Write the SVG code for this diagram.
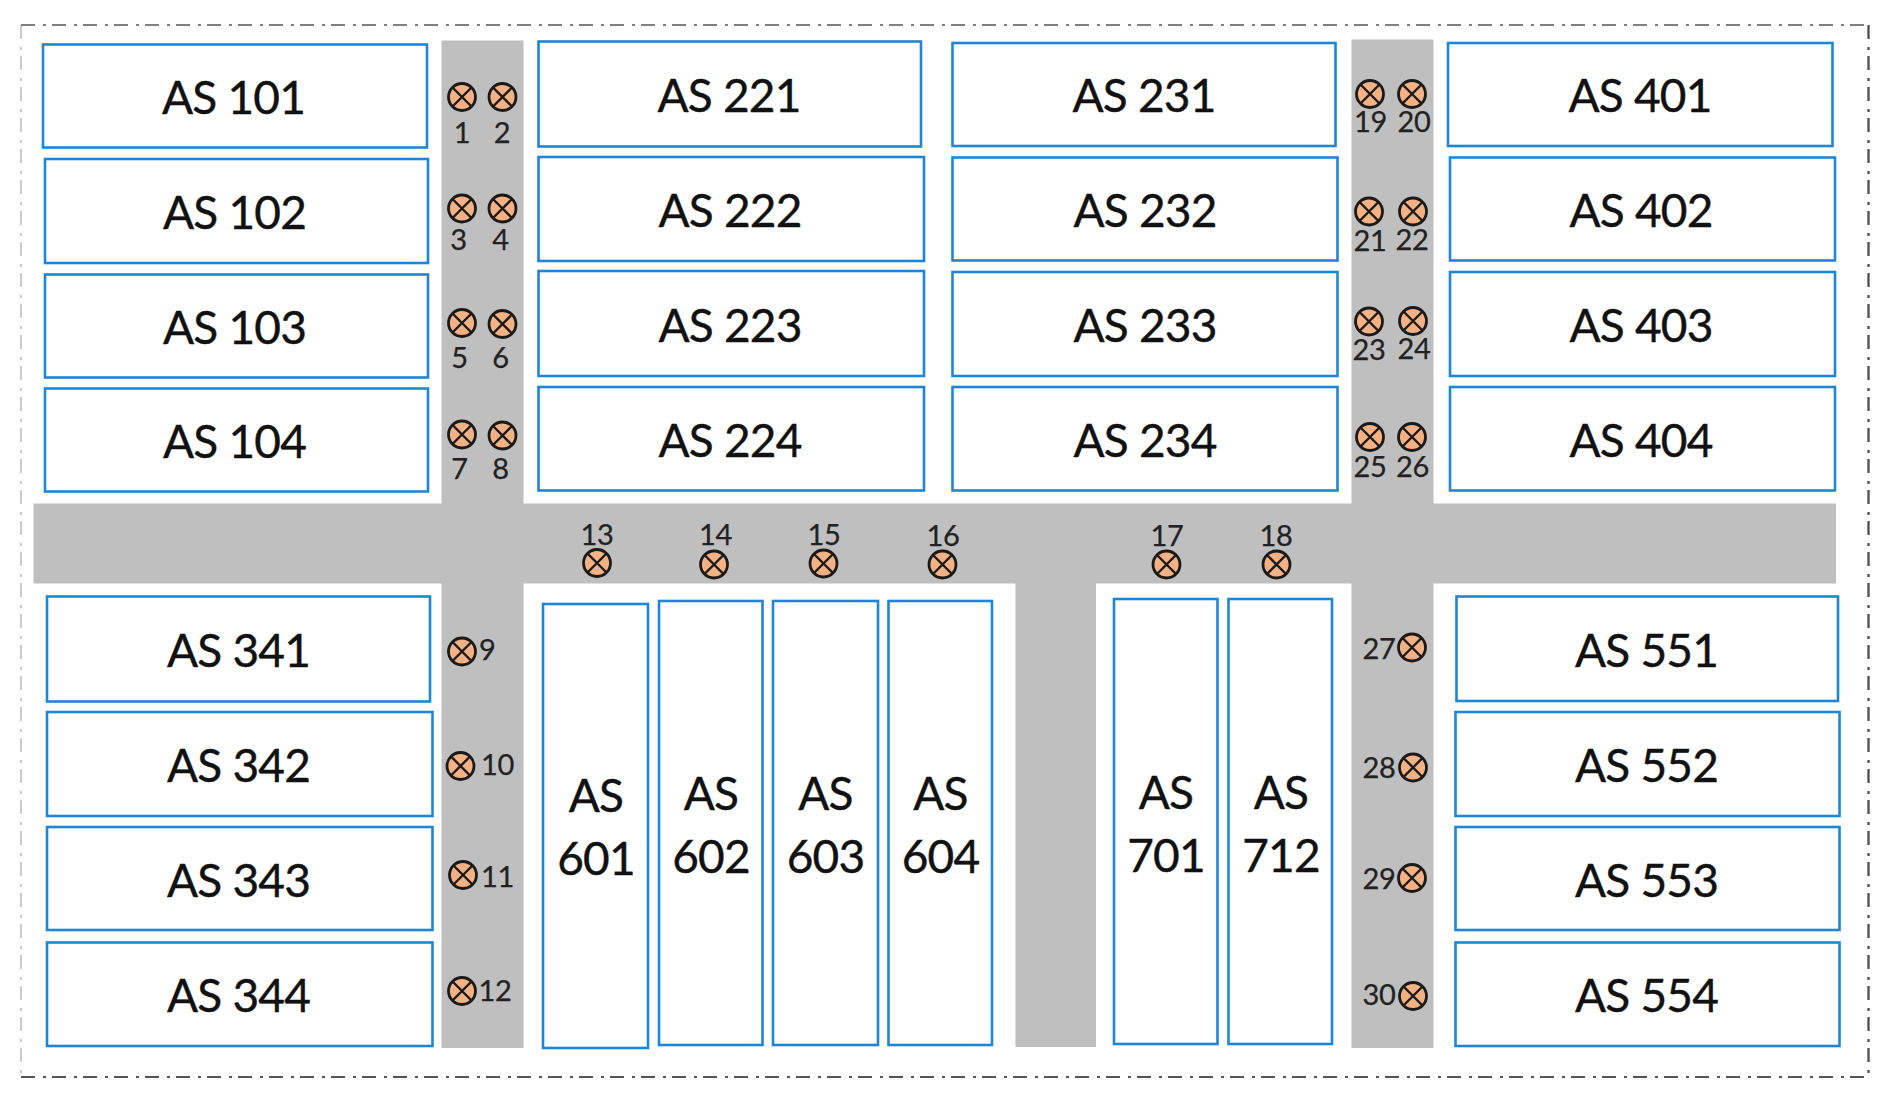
<svg xmlns="http://www.w3.org/2000/svg" width="1890" height="1099" viewBox="0 0 1890 1099">
<style>
.b{fill:#fff;stroke:#1f85d6;stroke-width:2.6}
.t{font-family:Lato,"Liberation Sans",sans-serif;font-size:46px;letter-spacing:-.8px;fill:#111;stroke:#111;stroke-width:.4;text-anchor:middle}
.n{font-family:Lato,"Liberation Sans",sans-serif;font-size:29px;letter-spacing:-.3px;fill:#222;stroke:#222;stroke-width:.25;text-anchor:middle}
.s{text-anchor:start}
.e{text-anchor:end}
.f{fill:none;stroke:#555;stroke-dasharray:14 8 3 6}
</style>
<defs>
<g id="lamp"><circle r="13.5" fill="#f4b183" stroke="#1a1a1a" stroke-width="2.8"/><path d="M-9.500-9.500L9.500 9.500M-9.500 9.500L9.500-9.500" fill="none" stroke="#1a1a1a" stroke-width="2.4"/></g>
</defs>
<rect width="1890" height="1099" fill="#fff"/>
<g id="frame">
<path class="f" d="M21 25H1869" stroke-width="1.6"/>
<path class="f" d="M21 25V1077" stroke-width="1" opacity=".6"/>
<path class="f" d="M1868.500 25V1077" stroke-width="2.4"/>
<path class="f" d="M21 1077H1869" stroke-width="2.2"/>
</g>
<g id="roads">
<path fill="#bfbfbf" d="M441.500 40.500H523.500V503.500H1351.500V39.500H1433.500V503.500H1836V583.500H1433.500V1048H1351.500V583.500H1096V1047H1015.500V583.500H523.500V1048H441.500V583.500H33.500V503.500H441.500Z"/>
</g>
<g id="as101"><rect class="b" x="43" y="44.500" width="384" height="103"/><text class="t" x="233.500" y="113.500">AS 101</text></g>
<g id="as102"><rect class="b" x="45" y="159" width="383" height="104"/><text class="t" x="234.500" y="228.500">AS 102</text></g>
<g id="as103"><rect class="b" x="45" y="274.500" width="383" height="103"/><text class="t" x="234.500" y="343.500">AS 103</text></g>
<g id="as104"><rect class="b" x="45" y="388.500" width="383" height="103"/><text class="t" x="234.500" y="458">AS 104</text></g>
<g id="as221"><rect class="b" x="538.500" y="41.500" width="382.500" height="105"/><text class="t" x="729" y="112">AS 221</text></g>
<g id="as222"><rect class="b" x="538.500" y="157" width="385.500" height="104"/><text class="t" x="730" y="227">AS 222</text></g>
<g id="as223"><rect class="b" x="538.500" y="271" width="385.500" height="105"/><text class="t" x="730" y="342">AS 223</text></g>
<g id="as224"><rect class="b" x="538.500" y="387" width="385.500" height="103.500"/><text class="t" x="730" y="457">AS 224</text></g>
<g id="as231"><rect class="b" x="952.500" y="43" width="383" height="103"/><text class="t" x="1144" y="112">AS 231</text></g>
<g id="as232"><rect class="b" x="952.500" y="157.500" width="385" height="103"/><text class="t" x="1145" y="227">AS 232</text></g>
<g id="as233"><rect class="b" x="952.500" y="272" width="385" height="104"/><text class="t" x="1145" y="342">AS 233</text></g>
<g id="as234"><rect class="b" x="952.500" y="387" width="385" height="103.500"/><text class="t" x="1145" y="457">AS 234</text></g>
<g id="as401"><rect class="b" x="1448" y="43" width="384.500" height="103"/><text class="t" x="1640" y="112">AS 401</text></g>
<g id="as402"><rect class="b" x="1450" y="157.500" width="385" height="103"/><text class="t" x="1641" y="227">AS 402</text></g>
<g id="as403"><rect class="b" x="1450" y="272" width="385" height="104"/><text class="t" x="1641" y="342">AS 403</text></g>
<g id="as404"><rect class="b" x="1450" y="387" width="385" height="103.500"/><text class="t" x="1641" y="457">AS 404</text></g>
<g id="as341"><rect class="b" x="47" y="596.500" width="383" height="105"/><text class="t" x="238.500" y="667">AS 341</text></g>
<g id="as342"><rect class="b" x="47" y="712" width="385.500" height="104"/><text class="t" x="238.500" y="782">AS 342</text></g>
<g id="as343"><rect class="b" x="47" y="827" width="385.500" height="103"/><text class="t" x="238.500" y="897">AS 343</text></g>
<g id="as344"><rect class="b" x="47" y="942.500" width="385.500" height="103.500"/><text class="t" x="238.500" y="1012">AS 344</text></g>
<g id="as551"><rect class="b" x="1456.500" y="596.500" width="381.500" height="104.500"/><text class="t" x="1646.500" y="667">AS 551</text></g>
<g id="as552"><rect class="b" x="1455.500" y="712" width="384" height="104"/><text class="t" x="1646.500" y="782">AS 552</text></g>
<g id="as553"><rect class="b" x="1455.500" y="827" width="384" height="103"/><text class="t" x="1646.500" y="897">AS 553</text></g>
<g id="as554"><rect class="b" x="1455.500" y="942.500" width="384" height="103.500"/><text class="t" x="1646.500" y="1012">AS 554</text></g>
<g id="as601"><rect class="b" x="543" y="604" width="105" height="444"/><text class="t" x="596" y="812">AS</text><text class="t" x="596" y="875">601</text></g>
<g id="as602"><rect class="b" x="659" y="601" width="103.500" height="444"/><text class="t" x="711" y="810">AS</text><text class="t" x="711" y="873">602</text></g>
<g id="as603"><rect class="b" x="773" y="601" width="105" height="444"/><text class="t" x="825.500" y="810">AS</text><text class="t" x="825.500" y="873">603</text></g>
<g id="as604"><rect class="b" x="888.500" y="601" width="103.500" height="444"/><text class="t" x="940.500" y="810">AS</text><text class="t" x="940.500" y="873">604</text></g>
<g id="as701"><rect class="b" x="1114" y="599" width="103.500" height="445"/><text class="t" x="1166" y="809">AS</text><text class="t" x="1166" y="871.500">701</text></g>
<g id="as712"><rect class="b" x="1228.500" y="599" width="103.500" height="445"/><text class="t" x="1281" y="809">AS</text><text class="t" x="1281" y="871.500">712</text></g>
<g id="l1"><use href="#lamp" x="462" y="97"/><text class="n" x="462" y="143">1</text></g>
<g id="l2"><use href="#lamp" x="502.500" y="97"/><text class="n" x="502" y="143">2</text></g>
<g id="l3"><use href="#lamp" x="462" y="208.500"/><text class="n" x="458.500" y="250">3</text></g>
<g id="l4"><use href="#lamp" x="502.500" y="208.500"/><text class="n" x="500.500" y="250">4</text></g>
<g id="l5"><use href="#lamp" x="462" y="323"/><text class="n" x="459.500" y="368">5</text></g>
<g id="l6"><use href="#lamp" x="502.500" y="324"/><text class="n" x="500.500" y="368">6</text></g>
<g id="l7"><use href="#lamp" x="462" y="434.500"/><text class="n" x="459.500" y="479">7</text></g>
<g id="l8"><use href="#lamp" x="502.500" y="435.500"/><text class="n" x="500.500" y="479">8</text></g>
<g id="l9"><use href="#lamp" x="462" y="651.500"/><text class="n s" x="479" y="660">9</text></g>
<g id="l10"><use href="#lamp" x="460.500" y="766"/><text class="n s" x="481" y="774.500">10</text></g>
<g id="l11"><use href="#lamp" x="463" y="875"/><text class="n s" x="481" y="886.500">11</text></g>
<g id="l12"><use href="#lamp" x="462" y="991"/><text class="n s" x="478.500" y="1000.500">12</text></g>
<g id="l13"><use href="#lamp" x="597" y="563"/><text class="n" x="597" y="544.500">13</text></g>
<g id="l14"><use href="#lamp" x="714" y="564.500"/><text class="n" x="715.500" y="544.500">14</text></g>
<g id="l15"><use href="#lamp" x="823.500" y="563.500"/><text class="n" x="824" y="544.500">15</text></g>
<g id="l16"><use href="#lamp" x="942.500" y="564.500"/><text class="n" x="943" y="545.500">16</text></g>
<g id="l17"><use href="#lamp" x="1166.500" y="564.500"/><text class="n" x="1167" y="545.500">17</text></g>
<g id="l18"><use href="#lamp" x="1276.500" y="564.500"/><text class="n" x="1276" y="545.500">18</text></g>
<g id="l19"><use href="#lamp" x="1370" y="94"/><text class="n" x="1370.500" y="131.500">19</text></g>
<g id="l20"><use href="#lamp" x="1412" y="94"/><text class="n" x="1414" y="131.500">20</text></g>
<g id="l21"><use href="#lamp" x="1369" y="211.500"/><text class="n" x="1370" y="251">21</text></g>
<g id="l22"><use href="#lamp" x="1413" y="211.500"/><text class="n" x="1412" y="250">22</text></g>
<g id="l23"><use href="#lamp" x="1369" y="321.500"/><text class="n" x="1369" y="360">23</text></g>
<g id="l24"><use href="#lamp" x="1413" y="321"/><text class="n" x="1414" y="359">24</text></g>
<g id="l25"><use href="#lamp" x="1370" y="437"/><text class="n" x="1370" y="477">25</text></g>
<g id="l26"><use href="#lamp" x="1412" y="437"/><text class="n" x="1412.500" y="477">26</text></g>
<g id="l27"><use href="#lamp" x="1412" y="647.500"/><text class="n e" x="1395.500" y="659">27</text></g>
<g id="l28"><use href="#lamp" x="1413" y="767.500"/><text class="n e" x="1395.500" y="778">28</text></g>
<g id="l29"><use href="#lamp" x="1412" y="878"/><text class="n e" x="1395.500" y="889">29</text></g>
<g id="l30"><use href="#lamp" x="1413" y="996"/><text class="n e" x="1395.500" y="1005">30</text></g>
</svg>
